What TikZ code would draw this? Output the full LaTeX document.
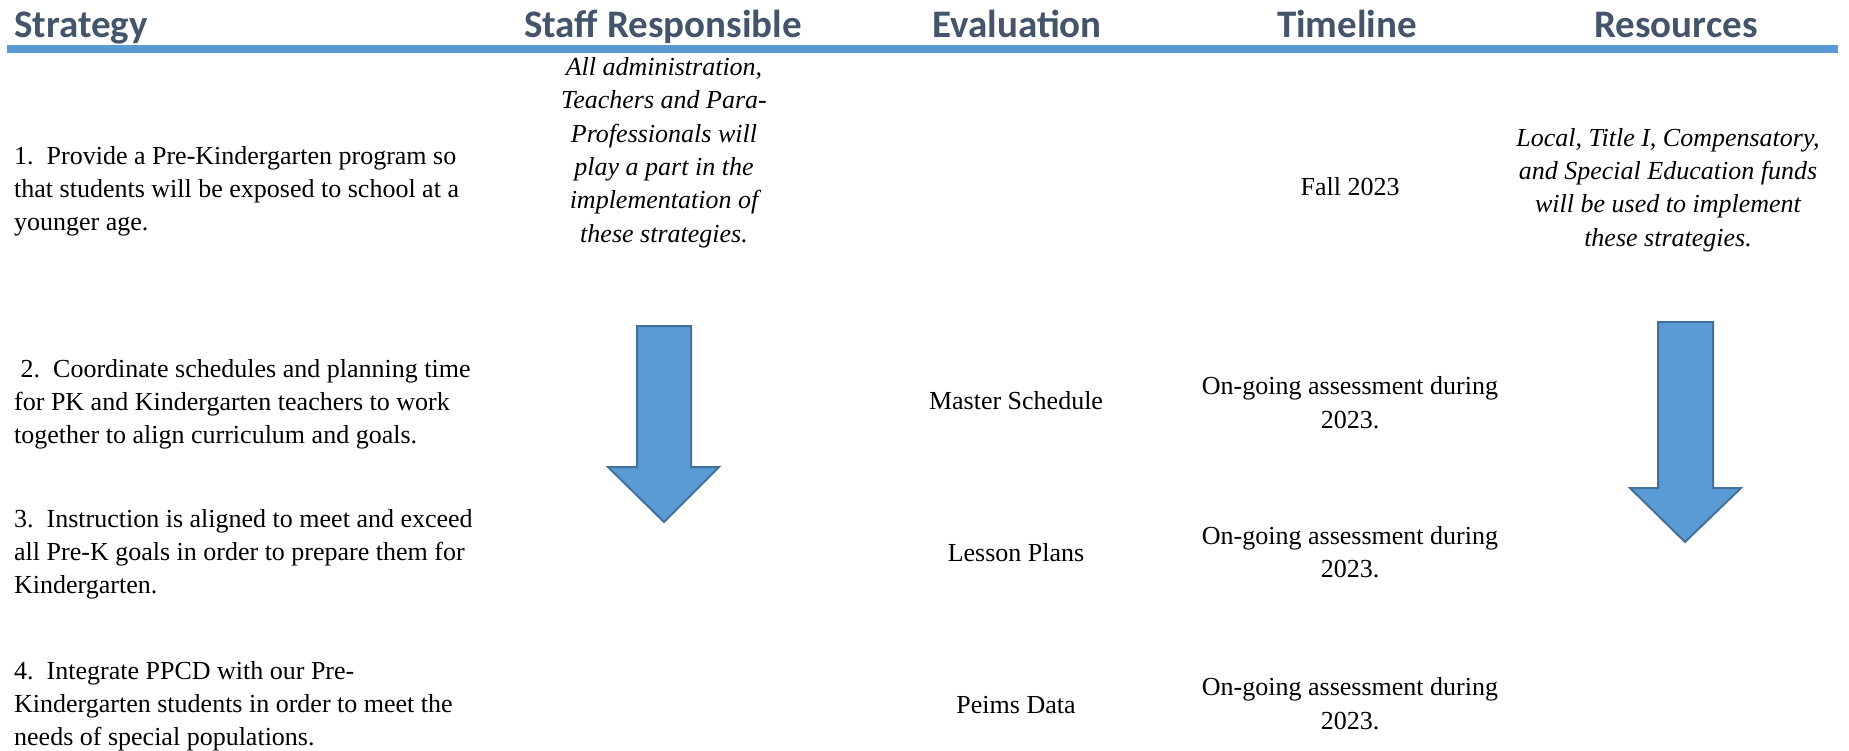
\documentclass[tikz,border=0pt]{standalone}
\usepackage{fontspec}
\setmainfont{Liberation Serif}
\newfontfamily\hdfont{Carlito}
\definecolor{hdcol}{HTML}{44546A}
\definecolor{rulecol}{HTML}{5B9BD5}
\definecolor{arrfill}{HTML}{5B9BD5}
\definecolor{arrline}{HTML}{41719C}
\begin{document}
\begin{tikzpicture}[x=1pt,y=-1pt,
  hdr/.style={font=\hdfont\bfseries\fontsize{39}{44}\selectfont, text=hdcol, inner sep=0pt, anchor=base},
  body/.style={font=\fontsize{26}{33.2}\selectfont, inner sep=0pt, align=left, anchor=west},
  cbody/.style={font=\fontsize{26}{33.4}\selectfont, inner sep=0pt, align=center, anchor=center},
  ibody/.style={cbody, font=\itshape\fontsize{26}{33.4}\selectfont},
  bigarrow/.style={fill=arrfill, draw=arrline, line width=2pt, line join=miter}]
\useasboundingbox (0,0) rectangle (1849,751);
% header
\node[hdr, anchor=base west] (h1) at (14,38) {Strategy};
\node[hdr] (h2) at (663,38) {Staff Responsible};
\node[hdr] (h3) at (1017,38) {Evaluation};
\node[hdr] (h4) at (1347,38) {Timeline};
\node[hdr] (h5) at (1676,38) {Resources};
\fill[rulecol] (7,45) rectangle (1838,52.7);
% strategies
\node[body] (s1) at (14,191) {1.\ \ Provide a Pre-Kindergarten program so\\that students will be exposed to school at a\\younger age.};
\node[body] (s2) at (14,404.5) {\ 2.\ \ Coordinate schedules and planning time\\for PK and Kindergarten teachers to work\\together to align curriculum and goals.};
\node[body] (s3) at (14,554.5) {3.\ \ Instruction is aligned to meet and exceed\\all Pre-K goals in order to prepare them for\\Kindergarten.};
\node[body] (s4) at (14,706) {4.\ \ Integrate PPCD with our Pre-\\Kindergarten students in order to meet the\\needs of special populations.};
% staff
\node[ibody] (st) at (664,152.5) {All administration,\\Teachers and Para-\\Professionals will\\play a part in the\\implementation of\\these strategies.};
% evaluation
\node[cbody] (e2) at (1016,400.5) {Master Schedule};
\node[cbody] (e3) at (1016,552.5) {Lesson Plans};
\node[cbody] (e4) at (1016,705.5) {Peims Data};
% timeline
\node[cbody] (t1) at (1350,186.5) {Fall 2023};
\node[cbody] (t2) at (1350,402.5) {On-going assessment during\\2023.};
\node[cbody] (t3) at (1350,552) {On-going assessment during\\2023.};
\node[cbody] (t4) at (1350,703.5) {On-going assessment during\\2023.};
% resources
\node[ibody] (r1) at (1668,190) {Local, Title I, Compensatory,\\and Special Education funds\\will be used to implement\\these strategies.};
% arrows
\draw[bigarrow] (637,326) -- (691,326) -- (691,467) -- (719,467) -- (664,522) -- (608,467) -- (637,467) -- cycle;
\draw[bigarrow] (1658,322) -- (1713,322) -- (1713,488) -- (1741,488) -- (1685,542) -- (1630,488) -- (1658,488) -- cycle;
\end{tikzpicture}
\end{document}
